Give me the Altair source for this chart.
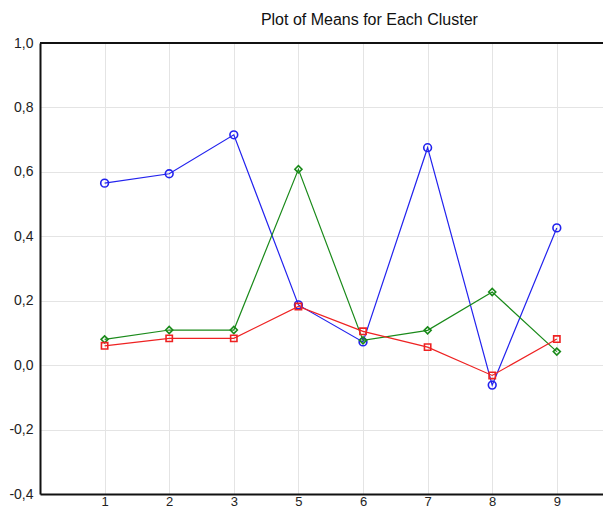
import json
import altair as alt
import pandas as pd

categories = ["1", "2", "3", "5", "6", "7", "8", "9"]
series_names = ["Cluster 1", "Cluster 2", "Cluster 3"]
blue_means = [0.565, 0.594, 0.715, 0.187, 0.072, 0.675, -0.062, 0.426]
green_means = [0.080, 0.109, 0.109, 0.608, 0.077, 0.108, 0.227, 0.042]
red_means = [0.060, 0.083, 0.083, 0.182, 0.105, 0.056, -0.032, 0.081]
y_ticks = [-0.4, -0.2, 0.0, 0.2, 0.4, 0.6, 0.8, 1.0]

rows = []
for name, vals in zip(series_names, [blue_means, green_means, red_means]):
    for i, (c, v) in enumerate(zip(categories, vals)):
        rows.append({"series": name, "cat": c, "pos": i + 1, "mean": v})
df = pd.DataFrame(rows)

label_expr = json.dumps(categories) + "[datum.value - 1]"

x = alt.X("pos:Q",
          scale=alt.Scale(domain=[0, 8.715], nice=False, zero=False),
          axis=alt.Axis(values=list(range(1, len(categories) + 1)), labelExpr=label_expr,
                        title=None, grid=True, gridColor="#e4e4e4", gridWidth=1,
                        domainColor="#111111", domainWidth=2, ticks=False,
                        labelPadding=1, labelFontSize=13, labelColor="#222222",
                        labelFont="Liberation Sans"))
y = alt.Y("mean:Q",
          scale=alt.Scale(domain=[-0.4, 1.0], nice=False, zero=False),
          axis=alt.Axis(values=y_ticks,
                        labelExpr="replace(replace(format(datum.value, '.1f'), '.', ','), '\u2212', '-')",
                        title=None, grid=True, gridColor="#e4e4e4", gridWidth=1,
                        domainColor="#111111", domainWidth=2, ticks=False,
                        labelPadding=7, labelFontSize=14, labelColor="#222222",
                        labelFont="Liberation Sans"))

color = alt.Color("series:N", legend=None,
                  scale=alt.Scale(domain=series_names, range=["#2222ee", "#1a8a1a", "#ee2222"]))
shape = alt.Shape("series:N", legend=None,
                  scale=alt.Scale(domain=series_names, range=["circle", "diamond", "square"]))
size = alt.Size("series:N", legend=None,
                scale=alt.Scale(domain=series_names, range=[60, 40, 70]))

base = alt.Chart(df)
lines = base.mark_line(strokeWidth=1.2).encode(x=x, y=y, color=color, detail="series:N")
points = base.mark_point(filled=False, strokeWidth=1.6, opacity=1).encode(
    x=x, y=y, color=color, shape=shape, size=size)
top_line = alt.Chart(pd.DataFrame({"top": [y_ticks[-1]]})).mark_rule(
    color="#111111", strokeWidth=2).encode(y=alt.Y("top:Q", scale=alt.Scale(domain=[-0.4, 1.0])))

chart = alt.layer(lines, points, top_line).properties(
    width=563, height=451,
    autosize=alt.AutoSizeParams(type="none"),
    padding={"left": 32, "top": 35, "right": 0, "bottom": 13},
    title=alt.Title("Plot of Means for Each Cluster", anchor="start", dx=252,
                    fontSize=16, font="Liberation Sans", fontWeight="normal",
                    color="#111111", offset=8),
).configure_view(stroke=None)

chart.save("out.html", embed_options={"renderer": "svg", "actions": False})
